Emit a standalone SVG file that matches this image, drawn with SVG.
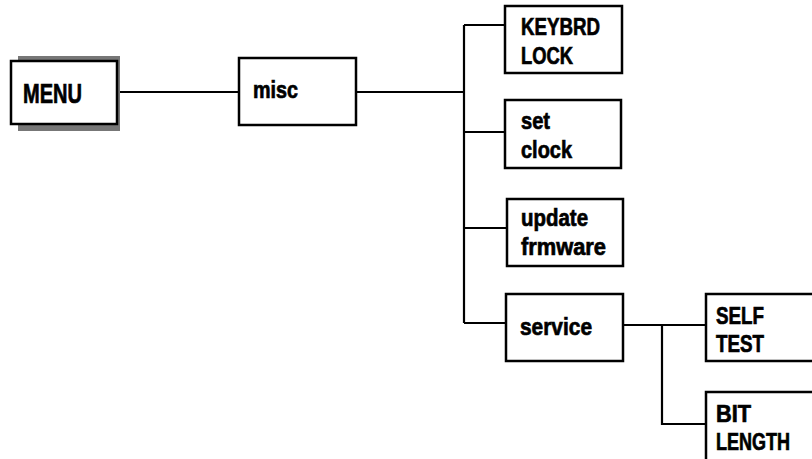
<svg xmlns="http://www.w3.org/2000/svg" width="812" height="459" viewBox="0 0 812 459">
<style>
.box{fill:#fff;stroke:#000;stroke-width:2.5}
.ln{fill:none;stroke:#000;stroke-width:2.2}
text{font-family:"Liberation Sans Narrow","Liberation Sans",Arial,sans-serif;font-weight:bold;font-size:24px;fill:#000;stroke:#000;stroke-width:0.7}
</style>
<rect width="812" height="459" fill="#fff"/>
<g id="connectors" class="ln">
<path d="M120 92H239"/>
<path d="M356 92H464"/>
<path d="M464 25V323"/>
<path d="M464 25H505M464 132H505M464 228H507M464 323H506"/>
<path d="M623 325H706M662 325V424H706"/>
</g>
<g id="menu">
<rect x="18" y="56" width="102" height="75" fill="#777"/>
<rect class="box" x="11" y="61" width="106" height="63"/>
<text x="23" y="103" style="font-size:27px" textLength="59" lengthAdjust="spacingAndGlyphs">MENU</text>
</g>
<g id="misc">
<rect class="box" x="239" y="58" width="117" height="67"/>
<text x="253" y="98" textLength="45" lengthAdjust="spacingAndGlyphs">misc</text>
</g>
<g id="keybrd">
<rect class="box" x="505" y="6" width="117" height="67"/>
<text x="521" y="35" textLength="79" lengthAdjust="spacingAndGlyphs">KEYBRD</text>
<text x="521" y="64" textLength="52" lengthAdjust="spacingAndGlyphs">LOCK</text>
</g>
<g id="setclock">
<rect class="box" x="505" y="100" width="116" height="68"/>
<text x="521" y="129" textLength="29" lengthAdjust="spacingAndGlyphs">set</text>
<text x="521" y="158" textLength="51" lengthAdjust="spacingAndGlyphs">clock</text>
</g>
<g id="update">
<rect class="box" x="507" y="199" width="116" height="67"/>
<text x="521" y="226" textLength="67" lengthAdjust="spacingAndGlyphs">update</text>
<text x="521" y="255" textLength="85" lengthAdjust="spacingAndGlyphs">frmware</text>
</g>
<g id="service">
<rect class="box" x="506" y="294" width="117" height="67"/>
<text x="520" y="335" textLength="72" lengthAdjust="spacingAndGlyphs">service</text>
</g>
<g id="selftest">
<rect class="box" x="706" y="294" width="120" height="67"/>
<text x="716" y="324" textLength="48" lengthAdjust="spacingAndGlyphs">SELF</text>
<text x="716" y="352" textLength="48" lengthAdjust="spacingAndGlyphs">TEST</text>
</g>
<g id="bitlength">
<rect class="box" x="706" y="392" width="120" height="70"/>
<text x="716" y="422" textLength="35" lengthAdjust="spacingAndGlyphs">BIT</text>
<text x="716" y="450" textLength="74" lengthAdjust="spacingAndGlyphs">LENGTH</text>
</g>
</svg>
